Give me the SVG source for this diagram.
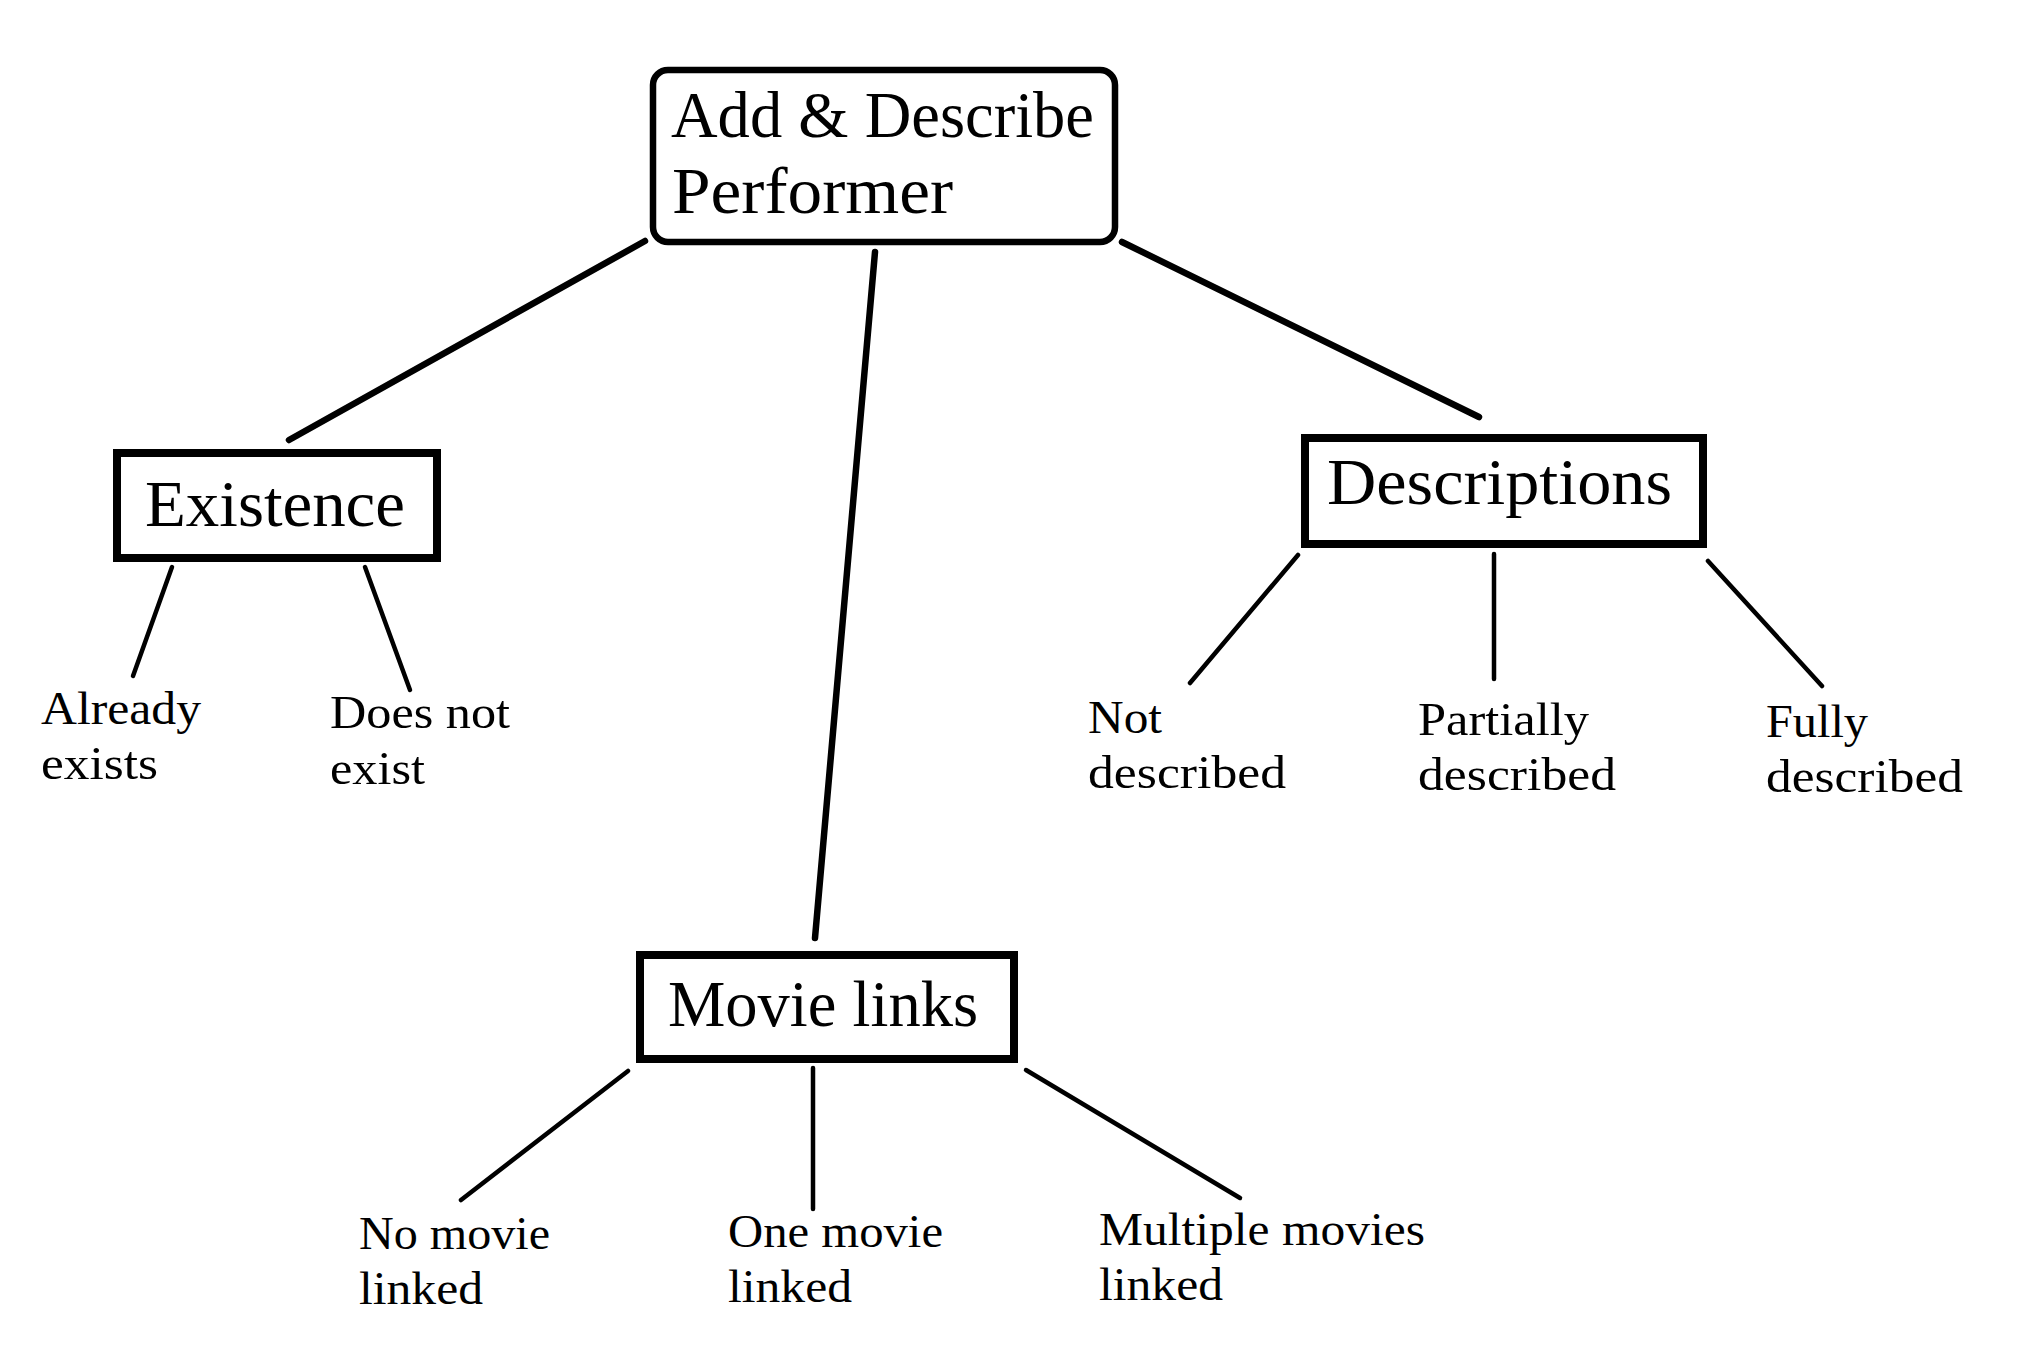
<svg xmlns="http://www.w3.org/2000/svg" width="2030" height="1370" viewBox="0 0 2030 1370">
<style>
.bg{fill:#ffffff}
.box{fill:#ffffff;stroke:#000000;stroke-width:8}
.rbox{fill:#ffffff;stroke:#000000;stroke-width:6.5}
.main{stroke:#000000;stroke-width:6.5;stroke-linecap:round;fill:none}
.sub{stroke:#000000;stroke-width:4.5;stroke-linecap:round;fill:none}
.big{font-family:"Liberation Serif","DejaVu Serif",serif;font-size:66px;fill:#000000}
.lbl{font-family:"Liberation Serif","DejaVu Serif",serif;font-size:46px;fill:#000000}
</style>
<rect class="bg" x="0" y="0" width="2030" height="1370"/>
<g id="connectors">
<line class="main" x1="645" y1="241" x2="289" y2="440"/>
<line class="main" x1="875" y1="252" x2="815" y2="938"/>
<line class="main" x1="1122" y1="242" x2="1479" y2="417"/>
<line class="sub" x1="172" y1="567" x2="133" y2="676"/>
<line class="sub" x1="365" y1="567" x2="410" y2="690"/>
<line class="sub" x1="1298" y1="555" x2="1190" y2="683"/>
<line class="sub" x1="1494" y1="554" x2="1494" y2="679"/>
<line class="sub" x1="1708" y1="561" x2="1822" y2="686"/>
<line class="sub" x1="628" y1="1071" x2="461" y2="1200"/>
<line class="sub" x1="813" y1="1068" x2="813" y2="1209"/>
<line class="sub" x1="1026" y1="1070" x2="1240" y2="1198"/>
</g>
<g id="node-root">
<rect class="rbox" x="653" y="70" width="462" height="172" rx="15" ry="15"/>
<text class="big" x="671" y="137" textLength="423" lengthAdjust="spacingAndGlyphs">Add &amp; Describe</text>
<text class="big" x="672" y="213" textLength="281" lengthAdjust="spacingAndGlyphs">Performer</text>
</g>
<g id="node-existence">
<rect class="box" x="117" y="453" width="320" height="105"/>
<text class="big" x="145" y="526" textLength="260" lengthAdjust="spacingAndGlyphs">Existence</text>
</g>
<g id="node-descriptions">
<rect class="box" x="1305" y="438" width="398" height="106"/>
<text class="big" x="1327" y="504" textLength="345" lengthAdjust="spacingAndGlyphs">Descriptions</text>
</g>
<g id="node-movielinks">
<rect class="box" x="640" y="955" width="374" height="104"/>
<text class="big" x="668" y="1026" textLength="310" lengthAdjust="spacingAndGlyphs">Movie links</text>
</g>
<g id="leaf-already-exists">
<text class="lbl" x="41" y="724" textLength="160" lengthAdjust="spacingAndGlyphs">Already</text>
<text class="lbl" x="41" y="779" textLength="117" lengthAdjust="spacingAndGlyphs">exists</text>
</g>
<g id="leaf-does-not-exist">
<text class="lbl" x="330" y="728" textLength="180" lengthAdjust="spacingAndGlyphs">Does not</text>
<text class="lbl" x="330" y="784" textLength="95" lengthAdjust="spacingAndGlyphs">exist</text>
</g>
<g id="leaf-not-described">
<text class="lbl" x="1088" y="733" textLength="74" lengthAdjust="spacingAndGlyphs">Not</text>
<text class="lbl" x="1088" y="788" textLength="198" lengthAdjust="spacingAndGlyphs">described</text>
</g>
<g id="leaf-partially-described">
<text class="lbl" x="1418" y="735" textLength="171" lengthAdjust="spacingAndGlyphs">Partially</text>
<text class="lbl" x="1418" y="790" textLength="198" lengthAdjust="spacingAndGlyphs">described</text>
</g>
<g id="leaf-fully-described">
<text class="lbl" x="1766" y="737" textLength="102" lengthAdjust="spacingAndGlyphs">Fully</text>
<text class="lbl" x="1766" y="792" textLength="197" lengthAdjust="spacingAndGlyphs">described</text>
</g>
<g id="leaf-no-movie">
<text class="lbl" x="359" y="1249" textLength="191" lengthAdjust="spacingAndGlyphs">No movie</text>
<text class="lbl" x="359" y="1304" textLength="124" lengthAdjust="spacingAndGlyphs">linked</text>
</g>
<g id="leaf-one-movie">
<text class="lbl" x="728" y="1247" textLength="215" lengthAdjust="spacingAndGlyphs">One movie</text>
<text class="lbl" x="728" y="1302" textLength="124" lengthAdjust="spacingAndGlyphs">linked</text>
</g>
<g id="leaf-multiple-movies">
<text class="lbl" x="1099" y="1245" textLength="326" lengthAdjust="spacingAndGlyphs">Multiple movies</text>
<text class="lbl" x="1099" y="1300" textLength="124" lengthAdjust="spacingAndGlyphs">linked</text>
</g>
</svg>
